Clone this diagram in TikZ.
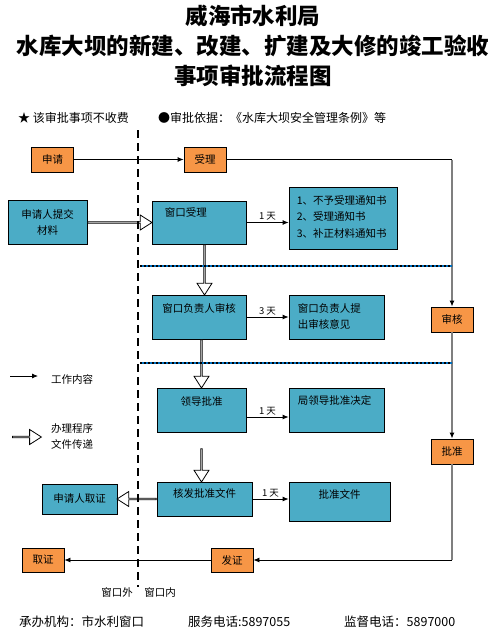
\documentclass[tikz,border=0pt]{standalone}
\usepackage{fontspec}
\setmainfont{Noto Sans CJK SC}
\usetikzlibrary{arrows.meta,calc,shapes.arrows}
\definecolor{boxorange}{HTML}{F79646}
\definecolor{boxblue}{HTML}{4BACC6}
\definecolor{sepblue}{HTML}{0070C0}
\definecolor{linegray}{HTML}{7F7F7F}
\tikzset{flow/.style={to path={let \p1=($(\tikztotarget)-(\tikztostart)$) in
  node[hollow, minimum height={veclen(\x1,\y1)}, rotate={atan2(\y1,\x1)}, anchor=tail] at (\tikztostart) {}}}}

\begin{document}
\begin{tikzpicture}[x=1pt, y=-1pt, font=\fontsize{10.5}{13}\selectfont]
  \tikzstyle{obox}=[rectangle, draw, fill=boxorange, line width=0.8pt, minimum width=42pt, minimum height=25pt, inner sep=1pt]
  \tikzstyle{bbox}=[rectangle, draw, fill=boxblue, line width=0.8pt, inner sep=1pt]
  \tikzstyle{txt}=[inner sep=0pt]
  \tikzstyle{days}=[midway, above, inner sep=1.5pt, font=\fontsize{9.5}{11}\selectfont]
  \tikzstyle{work}=[-{Latex[length=6pt,width=5pt,color=black]}, line width=0.8pt]
  \tikzstyle{hollow}=[draw, fill=white, line width=0.8pt, single arrow, single arrow head extend=3.5pt, single arrow tip angle=65, minimum width=15pt, inner sep=0pt]
  \tikzstyle{sep}=[line width=1.6pt]
  \useasboundingbox (0,0) rectangle (496,635);

  \node[font=\bfseries\fontsize{22.5}{30}\selectfont, align=center] (title) at (253,46) {威海市水利局\\水库大坝的新建、改建、扩建及大修的竣工验收\\事项审批流程图};
  \node[txt, anchor=west, font=\fontsize{12}{14}\selectfont] (fee) at (18,118) {★ 该审批事项不收费};
  \node[txt, anchor=west, font=\fontsize{12}{14}\selectfont] (basis) at (158,118) {●审批依据：《水库大坝安全管理条例》等};

  \node[obox] (apply) at (52.5,159.5) {申请};
  \node[obox] (accept) at (205,159.5) {受理};
  \node[obox] (review) at (452,319.5) {审核};
  \node[obox] (approve) at (452,451.5) {批准};
  \node[obox, minimum height=24pt] (issue) at (232,560) {发证};
  \node[obox, minimum height=24pt] (collect) at (43,560) {取证};

  \node[bbox, minimum width=79pt, minimum height=44pt, align=center, font=\fontsize{10.5}{16}\selectfont] (submit) at (47.5,222.5) {申请人提交\\材料};
  \node[bbox, minimum width=94pt, minimum height=43pt] (winacc) at (199,222.5) {};
  \node[txt, anchor=west] (winacc-t) at ([xshift=13pt,yshift=-12pt]winacc.north west) {窗口受理};
  \node[bbox, minimum width=108pt, minimum height=62pt] (notice) at (343,218) {};
  \node[txt, anchor=west, align=left, font=\fontsize{10.5}{16.5}\selectfont] (notice-t) at ([xshift=8pt,yshift=1.5pt]notice.west) {1、不予受理通知书\\2、受理通知书\\3、补正材料通知书};
  \node[bbox, minimum width=94pt, minimum height=44pt] (winchk) at (199,317) {};
  \node[txt] (winchk-t) at ([yshift=-14pt]winchk.north) {窗口负责人审核};
  \node[bbox, minimum width=95pt, minimum height=44pt] (opinion) at (336.5,317) {};
  \node[txt, anchor=west, align=left, font=\fontsize{10.5}{16}\selectfont] (opinion-t) at ([xshift=9pt,yshift=1pt]opinion.west) {窗口负责人提\\出审核意见};
  \node[bbox, minimum width=89pt, minimum height=44pt] (lead) at (201.5,410) {};
  \node[txt] (lead-t) at ([yshift=-14pt]lead.north) {领导批准};
  \node[bbox, minimum width=95pt, minimum height=44pt] (decide) at (336.5,410) {};
  \node[txt, anchor=west] (decide-t) at ([xshift=9pt,yshift=-13pt]decide.north west) {局领导批准决定};
  \node[bbox, minimum width=95pt, minimum height=34pt] (sign) at (204.5,499) {};
  \node[txt] (sign-t) at ([yshift=-12pt]sign.north) {核发批准文件};
  \node[bbox, minimum width=101pt, minimum height=39pt] (doc) at (339.5,501.5) {};
  \node[txt] (doc-t) at ([yshift=-13pt]doc.north) {批准文件};
  \node[bbox, minimum width=75pt, minimum height=30pt] (pickup) at (79.5,499) {申请人取证};

  \coordinate (c1) at (accept -| review);
  \coordinate (c2) at (approve |- issue);
  \draw[work] (apply) -- (accept);
  \draw[line width=0.8pt] (accept) -- (c1);
  \draw[work, draw=linegray, line width=1.2pt] (c1) -- (review);
  \draw[work, draw=linegray, line width=1.2pt] (review) -- (approve);
  \draw[linegray, line width=1.2pt] (approve) -- (c2);
  \draw[work] (c2) -- (issue);
  \draw[work] (issue) -- (collect);

  \draw[work] (winacc.east) -- (winacc.east -| notice.west) node[days] {1 天};
  \draw[work] (winchk.east) -- (winchk.east -| opinion.west) node[days] {3 天};
  \coordinate (leadr) at ([yshift=-7pt]lead.east);
  \draw[work] (leadr) -- (leadr -| decide.west) node[days] {1 天};
  \draw[work] (sign.east) -- (sign.east -| doc.west) node[days] {1 天};

  \coordinate (d1) at (winacc.south -| sign.north);
  \coordinate (d2) at (winchk.north -| sign.north);
  \coordinate (d3) at (winchk.south -| lead.north);
  \coordinate (d4) at ([yshift=-16pt]lead.south);
  \coordinate (d5) at (d4 |- sign.north);
  \path (submit.east) to[flow] (winacc.west);
  \path (d1) to[flow] (d2);
  \path (d3) to[flow] (lead.north);
  \path (d4) to[flow] (d5);
  \path (sign.west) to[flow] (pickup.east);

  \draw[sepblue, sep] (140,266) -- (452,266);
  \draw[sep, dash pattern=on 2pt off 2pt] (140,266) -- (452,266);
  \draw[sepblue, sep] (140,363) -- (452,363);
  \draw[sep, dash pattern=on 2pt off 2pt] (140,363) -- (452,363);

  \coordinate (leg1a) at (10,376);
  \coordinate (leg1b) at (38,376);
  \draw[work] (leg1a) -- (leg1b);
  \node[txt, anchor=west] (leg1-t) at (51,379) {工作内容};
  \coordinate (leg2a) at (12,437);
  \coordinate (leg2b) at (41,437);
  \path (leg2a) to[flow] (leg2b);
  \node[txt, anchor=west, align=left, font=\fontsize{10.5}{16}\selectfont] (leg2-t) at (51,436) {办理程序\\文件传递};

  \draw[line width=2.7pt, dash pattern=on 8pt off 5pt] (138,130) -- (138,587);
  \node[txt] (outside) at (117,592) {窗口外};
  \node[txt] (inside) at (160,592) {窗口内};

  \node[txt, anchor=west, font=\fontsize{12.5}{14}\selectfont] (org) at (19,622) {承办机构：市水利窗口};
  \node[txt, anchor=west, font=\fontsize{12.5}{14}\selectfont] (tel) at (188,622) {服务电话:5897055};
  \node[txt, anchor=west, font=\fontsize{12.5}{14}\selectfont] (sup) at (344,622) {监督电话：5897000};
\end{tikzpicture}
\end{document}
